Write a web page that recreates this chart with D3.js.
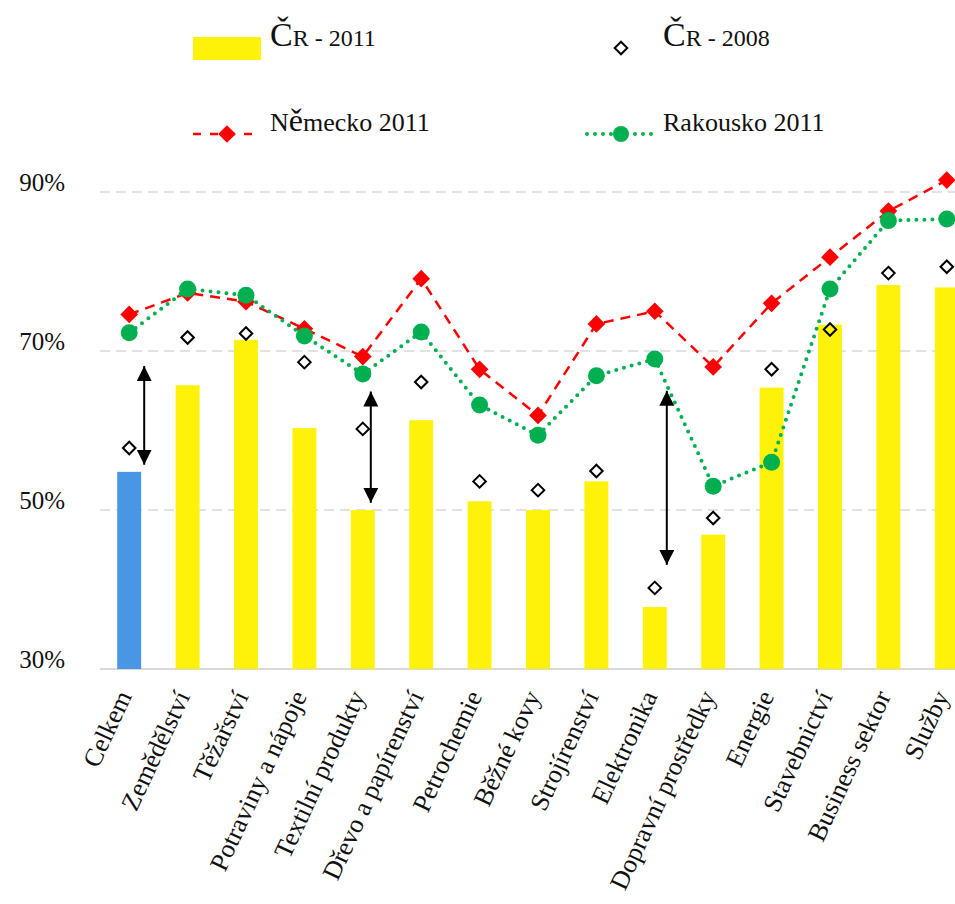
<!DOCTYPE html>
<html><head><meta charset="utf-8">
<script src="https://cdn.jsdelivr.net/npm/d3@7/dist/d3.min.js"></script>
<style>body{margin:0;background:#fff}svg{display:block}</style>
</head><body>
<svg id="c" width="955" height="904" style="font-family:'Liberation Serif',serif"></svg>
<script>
const categories = ["Celkem","Zemědělství","Těžařství","Potraviny a nápoje","Textilní produkty","Dřevo a papírenství","Petrochemie","Běžné kovy","Strojírenství","Elektronika","Dopravní prostředky","Energie","Stavebnictví","Business sektor","Služby"];
const cr2011 = [54.8,65.7,71.4,60.3,50.0,61.3,51.1,50.0,53.6,37.8,46.9,65.4,73.3,78.3,78.0];
const cr2008 = [57.8,71.7,72.2,68.6,60.2,66.1,53.6,52.5,54.9,40.2,49.0,67.7,72.7,79.8,80.6];
const nemecko2011 = [74.6,77.3,76.2,72.8,69.3,79.1,67.7,61.9,73.4,75.0,68.0,76.0,81.8,87.6,91.5];
const rakousko2011 = [72.3,77.8,77.0,71.9,67.1,72.4,63.2,59.4,66.9,69.0,53.0,56.0,77.8,86.4,86.6];
const yTicks = [30,50,70,90];
// arrows: category, horizontal offset, from value, to value
const arrowCats = ["Celkem","Textilní produkty","Elektronika"];
const arrowOffsets = [15,8,12];
const arrowTop = [68.1,64.9,65.0];
const arrowBottom = [55.7,50.9,43.1];

const svg = d3.select("#c");
const FONT = "'Liberation Serif', serif";
const x = d3.scaleBand().domain(categories).range([100,976]).paddingInner(0.59).paddingOuter(0.295);
const y = d3.scaleLinear().domain([30,90]).range([669,192]);
const cx = c => x(c) + x.bandwidth()/2;

function txt(sel, size){ return sel.style("font-family",FONT).style("font-size",size+"px").style("fill","#111"); }

// grid
svg.append("g").selectAll("line").data(yTicks).join("line")
  .attr("x1",100).attr("x2",955).attr("y1",d=>y(d)).attr("y2",d=>y(d))
  .attr("stroke","#d9d9d9").attr("stroke-width",d=>d===30?2:1.5)
  .attr("stroke-dasharray",d=>d===30?null:"10,6");
// y labels
txt(svg.append("g").selectAll("text").data(yTicks).join("text")
  .attr("x",65).attr("y",d=>y(d)-1).attr("text-anchor","end"),25).text(d=>d+"%");

// bars
svg.append("g").selectAll("rect").data(categories).join("rect")
  .attr("x",d=>x(d)).attr("width",x.bandwidth())
  .attr("y",(d,i)=>y(cr2011[i])).attr("height",(d,i)=>y(30)-y(cr2011[i]))
  .attr("fill",(d,i)=>i===0?"#4896e4":"#fff20a");

// x labels
txt(svg.append("g").selectAll("text").data(categories).join("text")
  .attr("text-anchor","end")
  .attr("transform",d=>`translate(${cx(d)+3},696) rotate(-65)`),26).text(d=>d);

const diamond = d3.symbol().type(d3.symbolDiamond2);
// CR 2008 hollow diamonds
svg.append("g").selectAll("path").data(categories).join("path")
  .attr("d",diamond.size(100)())
  .attr("transform",(d,i)=>`translate(${cx(d)},${y(cr2008[i])})`)
  .attr("fill","none").attr("stroke","#000").attr("stroke-width",2);

// Německo
const line = vals => d3.line().x((d,i)=>cx(categories[i])).y(d=>y(d))(vals);
svg.append("path").attr("d",line(nemecko2011)).attr("fill","none")
  .attr("stroke","#ff0000").attr("stroke-width",2.5).attr("stroke-dasharray","10,7");
svg.append("g").selectAll("path").data(categories).join("path")
  .attr("d",diamond.size(200)())
  .attr("transform",(d,i)=>`translate(${cx(d)},${y(nemecko2011[i])})`)
  .attr("fill","#ff0000");

// Rakousko
svg.append("path").attr("d",line(rakousko2011)).attr("fill","none")
  .attr("stroke","#00b050").attr("stroke-width",4).attr("stroke-linecap","round").attr("stroke-dasharray","0,8");
svg.append("g").selectAll("circle").data(categories).join("circle")
  .attr("cx",d=>cx(d)).attr("cy",(d,i)=>y(rakousko2011[i])).attr("r",8.5)
  .attr("fill","#00b050");

// arrows
const defs = svg.append("defs");
defs.append("marker").attr("id","ah").attr("markerUnits","userSpaceOnUse")
  .attr("markerWidth",16).attr("markerHeight",16).attr("refX",15).attr("refY",7.5)
  .attr("orient","auto-start-reverse").attr("viewBox","0 0 16 16")
  .append("path").attr("d","M0,0L15,7.5L0,15Z").attr("fill","#000");
svg.append("g").selectAll("line").data(arrowCats).join("line")
  .attr("x1",(d,i)=>cx(d)+arrowOffsets[i]).attr("x2",(d,i)=>cx(d)+arrowOffsets[i])
  .attr("y1",(d,i)=>y(arrowTop[i])).attr("y2",(d,i)=>y(arrowBottom[i]))
  .attr("stroke","#000").attr("stroke-width",2)
  .attr("marker-start","url(#ah)").attr("marker-end","url(#ah)");

// legend
const lg = svg.append("g");
lg.append("rect").attr("x",193).attr("y",37).attr("width",68).attr("height",23).attr("fill","#fff20a");
const t1 = txt(lg.append("text").attr("x",270).attr("y",46),24);
t1.append("tspan").style("font-size","34px").text("Č"); t1.append("tspan").text("R - 2011");
lg.append("path").attr("d",diamond.size(100)()).attr("transform","translate(621,48)")
  .attr("fill","none").attr("stroke","#000").attr("stroke-width",2);
const t2 = txt(lg.append("text").attr("x",663).attr("y",46),24);
t2.append("tspan").style("font-size","34px").text("Č"); t2.append("tspan").text("R - 2008");
lg.append("line").attr("x1",193).attr("x2",258).attr("y1",134).attr("y2",134)
  .attr("stroke","#ff0000").attr("stroke-width",2.5).attr("stroke-dasharray","8,9");
lg.append("path").attr("d",diamond.size(200)()).attr("transform","translate(227,134)").attr("fill","#ff0000");
const t3 = txt(lg.append("text").attr("x",270).attr("y",131),26);
t3.append("tspan").text("N"); t3.append("tspan").style("font-size","32px").text("ě"); t3.append("tspan").text("mecko 2011");
lg.append("line").attr("x1",587).attr("x2",654).attr("y1",134).attr("y2",134)
  .attr("stroke","#00b050").attr("stroke-width",4).attr("stroke-linecap","round").attr("stroke-dasharray","0,8");
lg.append("circle").attr("cx",621).attr("cy",134).attr("r",8).attr("fill","#00b050");
txt(lg.append("text").attr("x",663).attr("y",131),26).text("Rakousko 2011");
</script>
</body></html>
